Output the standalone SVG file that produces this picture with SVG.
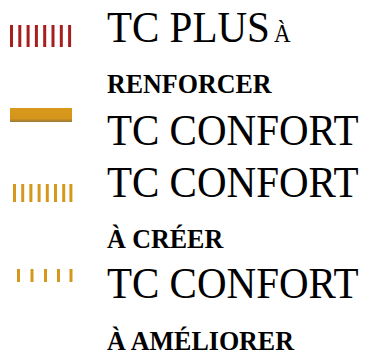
<svg xmlns="http://www.w3.org/2000/svg" width="371" height="361" viewBox="0 0 371 361">
<defs>
<style>
text{font-family:"Liberation Serif","Times New Roman","DejaVu Serif",serif;fill:#000}
.big{font-size:41px;font-weight:normal}
.sm{font-size:26px;font-weight:bold}
.red{fill:#a61e1e}
.gold{fill:#d6981c}
</style>
<linearGradient id="bar" x1="0" y1="0" x2="0" y2="1">
<stop offset="0" stop-color="#d89a1c"/>
<stop offset="0.75" stop-color="#d4951a"/>
<stop offset="1" stop-color="#9a7a3a"/>
</linearGradient>
</defs>
<rect width="371" height="361" fill="#fff"/>
<g id="legend-plus">
<g class="red">
<rect x="10" y="25" width="3" height="22"/>
<rect x="18.3" y="25" width="3" height="22"/>
<rect x="26.6" y="25" width="3" height="22"/>
<rect x="34.9" y="25" width="3" height="22"/>
<rect x="43.2" y="25" width="3" height="22"/>
<rect x="51.5" y="25" width="3" height="22"/>
<rect x="59.8" y="25" width="3" height="22"/>
<rect x="68.1" y="25" width="3" height="22"/>
</g>
<text class="big" font-family="Liberation Serif, serif" transform="translate(107,42) scale(1,1.08)">TC PLUS</text>
<text class="big" font-family="Liberation Serif, serif" transform="translate(274,42) scale(1,1.08)" style="font-size:23px">À</text>
<text class="sm" font-family="Liberation Serif, serif" transform="translate(107,93) scale(1,1.05)">RENFORCER</text>
</g>
<g id="legend-confort">
<rect x="10" y="108" width="62" height="14" fill="url(#bar)"/>
<text class="big" font-family="Liberation Serif, serif" transform="translate(107,145) scale(1,1.08)">TC CONFORT</text>
</g>
<g id="legend-creer">
<g class="gold">
<rect x="13" y="184" width="3" height="18"/>
<rect x="21.2" y="184" width="3" height="18"/>
<rect x="29.4" y="184" width="3" height="18"/>
<rect x="37.6" y="184" width="3" height="18"/>
<rect x="45.8" y="184" width="3" height="18"/>
<rect x="54" y="184" width="3" height="18"/>
<rect x="62.2" y="184" width="3" height="18"/>
<rect x="69.4" y="184" width="3" height="18"/>
</g>
<text class="big" font-family="Liberation Serif, serif" transform="translate(107,197) scale(1,1.08)">TC CONFORT</text>
<text class="sm" font-family="Liberation Serif, serif" transform="translate(107,248) scale(1,1.05)">À CRÉER</text>
</g>
<g id="legend-ameliorer">
<g class="gold">
<rect x="17" y="269" width="3" height="13"/>
<rect x="30.5" y="269" width="3" height="13"/>
<rect x="44" y="269" width="3" height="13"/>
<rect x="57" y="269" width="3" height="13"/>
<rect x="69.5" y="269" width="3" height="13"/>
</g>
<text class="big" font-family="Liberation Serif, serif" transform="translate(107,298) scale(1,1.08)">TC CONFORT</text>
<text class="sm" font-family="Liberation Serif, serif" transform="translate(107,350) scale(1,1.05)">À AMÉLIORER</text>
</g>
</svg>
